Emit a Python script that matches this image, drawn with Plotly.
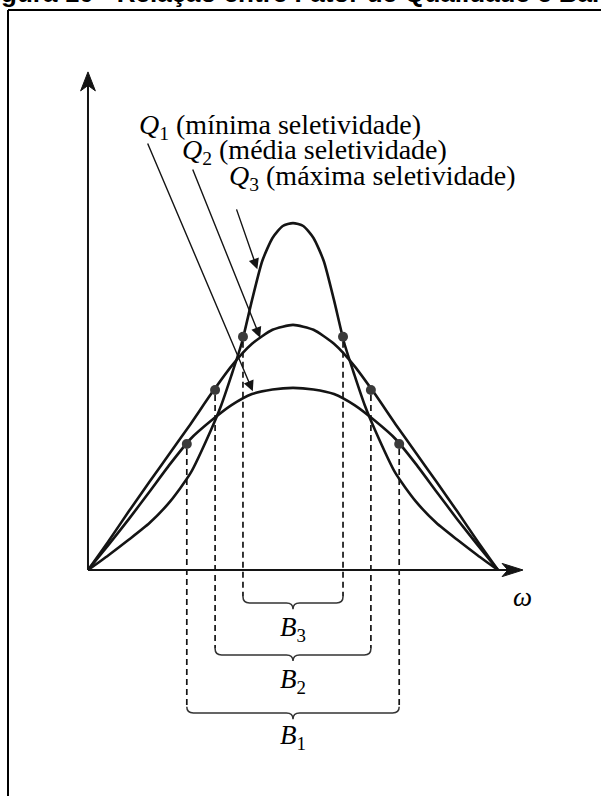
import plotly.graph_objects as go

# Resonance curves: normalized frequency (omega) vs response amplitude
omega_q1 = [0, 5, 10, 15, 20, 25, 30, 35, 40, 45, 50,
            55, 60, 65, 70, 75, 80, 85, 90, 95, 100]
amp_q1 = [0, 6.1, 12.4, 19.0, 25.7, 31.8, 36.2, 40.0, 42.7, 43.8, 44.2,
          43.8, 42.7, 40.0, 36.2, 31.8, 25.7, 19.0, 12.4, 6.1, 0]

omega_q2 = [0, 5, 10, 15, 20, 25, 30, 35, 40, 45, 50,
            55, 60, 65, 70, 75, 80, 85, 90, 95, 100]
amp_q2 = [0, 7.0, 14.3, 21.4, 28.4, 35.4, 42.7, 49.5, 54.9, 58.3, 59.5,
          58.3, 54.9, 49.5, 42.7, 35.4, 28.4, 21.4, 14.3, 7.0, 0]

omega_q3 = [0, 5, 10, 15, 20, 25, 30, 32.5, 35, 37.5, 40, 42.5, 45, 47.5, 50,
            52.5, 55, 57.5, 60, 62.5, 65, 67.5, 70, 75, 80, 85, 90, 95, 100]
amp_q3 = [0, 3.6, 7.4, 11.4, 16.6, 23.5, 34.0, 40.0, 47.3, 55.1, 65.5, 75.0, 80.6, 83.5, 84.2,
          83.5, 80.6, 75.0, 65.5, 55.1, 47.3, 40.0, 34.0, 23.5, 16.6, 11.4, 7.4, 3.6, 0]

# Half-power (cut-off) points of each curve
cut_omega = {"Q1": [24.1, 75.9], "Q2": [31.0, 69.0], "Q3": [37.8, 62.2]}
cut_amp = {"Q1": 30.6, "Q2": 43.7, "Q3": 56.6}

# Bandwidth braces: level of each brace and of its label
band_names = {"Q1": "B", "Q2": "B", "Q3": "B"}
brace_level = {"Q1": -34.7, "Q2": -20.6, "Q3": -8.0}
band_label_level = {"Q1": -40.6, "Q2": -27.0, "Q3": -14.4}

curve_labels = {
    "Q1": "(mínima seletividade)",
    "Q2": "(média seletividade)",
    "Q3": "(máxima seletividade)",
}

INK = "#141414"
SERIF = "Liberation Serif"

fig = go.Figure()

for om, am in [(omega_q1, amp_q1), (omega_q2, amp_q2), (omega_q3, amp_q3)]:
    fig.add_trace(go.Scatter(
        x=om, y=am, mode="lines",
        line=dict(color=INK, width=2.6, shape="spline", smoothing=0.6),
        hoverinfo="skip",
    ))

for key in ["Q1", "Q2", "Q3"]:
    fig.add_trace(go.Scatter(
        x=cut_omega[key], y=[cut_amp[key]] * 2, mode="markers",
        marker=dict(size=10, color="#3a3a3a", line=dict(width=0)),
        hoverinfo="skip",
    ))

shapes = []

# Axes with arrowheads
shapes.append(dict(type="line", x0=0, y0=0, x1=102.6, y1=0,
                   line=dict(color=INK, width=2)))
shapes.append(dict(type="line", x0=0, y0=0, x1=0, y1=117.8,
                   line=dict(color=INK, width=2)))
shapes.append(dict(type="path", path="M 106.1,0 L 101.0,1.6 L 102.4,0 L 101.0,-1.6 Z",
                   fillcolor=INK, line=dict(color=INK, width=1)))
shapes.append(dict(type="path", path="M 0,120.9 L -1.8,116.3 L 0,117.6 L 1.8,116.3 Z",
                   fillcolor=INK, line=dict(color=INK, width=1)))

# Dashed drop lines and braces for each bandwidth
for key in ["Q1", "Q2", "Q3"]:
    xl, xr = cut_omega[key]
    yb = brace_level[key]
    h, w = 1.5, 1.6
    for xv in (xl, xr):
        shapes.append(dict(type="line", x0=xv, y0=cut_amp[key] - 1.2, x1=xv, y1=yb + h,
                           line=dict(color=INK, width=1.7, dash="6px,4px")))
    xm = (xl + xr) / 2
    path = (f"M {xl},{yb + h} Q {xl},{yb} {xl + w},{yb} L {xm - w},{yb} "
            f"Q {xm},{yb} {xm},{yb - h} Q {xm},{yb} {xm + w},{yb} "
            f"L {xr - w},{yb} Q {xr},{yb} {xr},{yb + h}")
    shapes.append(dict(type="path", path=path, line=dict(color="#333333", width=1.5)))

# Frame around the figure
shapes.append(dict(type="line", xref="paper", yref="paper", x0=8 / 601, y0=1 - 10 / 796,
                   x1=1.02, y1=1 - 10 / 796, line=dict(color="black", width=2)))
shapes.append(dict(type="line", xref="paper", yref="paper", x0=8 / 601, y0=1 - 10 / 796,
                   x1=8 / 601, y1=-0.02, line=dict(color="black", width=2)))

annotations = []

# Curve captions and pointer arrows
label_pos = {"Q1": (12.0, 107.6), "Q2": (22.4, 101.5), "Q3": (33.9, 95.2)}
arrow_from = {"Q1": (14.4, 103.9), "Q2": (25.4, 97.6), "Q3": (36.1, 87.9)}
arrow_to = {"Q1": (40.2, 43.4), "Q2": (42.0, 56.4), "Q3": (41.3, 73.0)}
for key in ["Q1", "Q2", "Q3"]:
    lx, ly = label_pos[key]
    annotations.append(dict(
        x=lx, y=ly, xanchor="left", yanchor="middle", showarrow=False,
        text=f"<i>Q</i><sub>{key[1]}</sub> {curve_labels[key]}",
        font=dict(family=SERIF, size=28, color="black"),
    ))
    (ax, ay), (tx, ty) = arrow_from[key], arrow_to[key]
    annotations.append(dict(
        x=tx, y=ty, ax=ax, ay=ay, xref="x", yref="y", axref="x", ayref="y",
        text="", showarrow=True, arrowhead=2, arrowsize=1.5, arrowwidth=1.4,
        arrowcolor=INK, standoff=0, startstandoff=0,
    ))

# Bandwidth labels
for key in ["Q1", "Q2", "Q3"]:
    xm = sum(cut_omega[key]) / 2
    annotations.append(dict(
        x=xm, y=band_label_level[key], xanchor="center", yanchor="middle", showarrow=False,
        text=f"<i>{band_names[key]}</i><sub>{key[1]}</sub>",
        font=dict(family=SERIF, size=27, color="black"),
    ))

# Frequency axis label
annotations.append(dict(
    x=105.9, y=-6.6, xanchor="center", yanchor="middle", showarrow=False,
    text="<i>ω</i>", font=dict(family=SERIF, size=27, color="black"),
))

# Figure caption (partly above the page edge)
annotations.append(dict(
    xref="paper", yref="paper", x=-24 / 601, y=1 - 10 / 796,
    xanchor="left", yanchor="bottom", showarrow=False,
    text="<b>Figura 10 - Relação entre Fator de Qualidade e Banda de Passagem</b>",
    font=dict(family="Liberation Sans", size=26, color="black"),
))

fig.update_layout(
    width=601, height=796,
    margin=dict(l=0, r=0, t=0, b=0),
    paper_bgcolor="white", plot_bgcolor="white",
    showlegend=False,
    xaxis=dict(range=[-21.46, 125.12], visible=False, fixedrange=True),
    yaxis=dict(range=[-54.85, 138.35], visible=False, fixedrange=True),
    shapes=shapes,
    annotations=annotations,
)

fig.write_html("out.html")
